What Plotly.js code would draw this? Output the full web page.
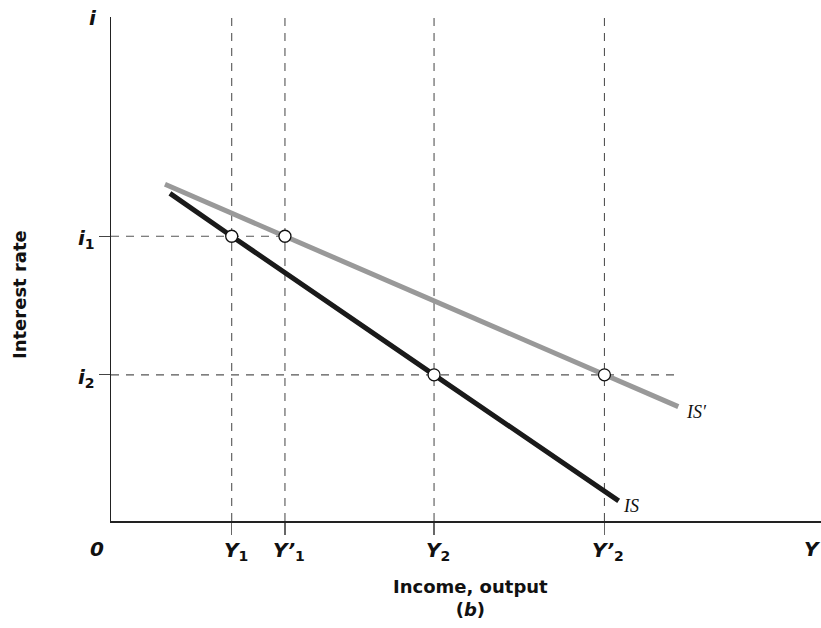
<!DOCTYPE html>
<html><head><meta charset="utf-8">
<script src="https://cdn.plot.ly/plotly-3.0.1.min.js"></script>
<style>html,body{margin:0;padding:0;background:#fff}#chart{width:821px;height:628px}</style>
</head><body><div id="chart"></div>
<script>
// Equilibrium levels (data units)
const incomeLevels = {Y1: 1.7, Y1p: 2.45, Y2: 4.55, Y2p: 6.95};
const rateLevels = {i1: 5.65, i2: 2.9};
// IS curve (black) and IS' curve (gray)
const isX = [0.83, 1.7, 4.55, 7.15];
const isY = [6.5, 5.65, 2.9, 0.4];
const isPX = [0.76, 2.45, 6.95, 7.99];
const isPY = [6.68, 5.65, 2.9, 2.27];
// Equilibrium points
const ptX = [1.7, 2.45, 4.55, 6.95];
const ptY = [5.65, 5.65, 2.9, 2.9];
// Tick labels
const N = s => '<sub><span style="font-style:normal">' + s + '</span></sub>';
const xTickLabels = ['Y' + N('1'), 'Y’' + N('1'), 'Y' + N('2'), 'Y’' + N('2')];
const yTickLabels = ['i' + N('1'), 'i' + N('2')];
const xMax = 10, yMax = 10, i2DashEnd = 7.95;

const xVals = [incomeLevels.Y1, incomeLevels.Y1p, incomeLevels.Y2, incomeLevels.Y2p];
const yVals = [rateLevels.i1, rateLevels.i2];

const dashStyle = {color: '#555', width: 1.1, dash: '8px,7px'};
const traces = [];
xVals.forEach(v => traces.push({x: [v, v], y: [0, yMax], mode: 'lines', line: dashStyle, hoverinfo: 'skip'}));
traces.push({x: [0, incomeLevels.Y1p], y: [rateLevels.i1, rateLevels.i1], mode: 'lines', line: dashStyle, hoverinfo: 'skip'});
traces.push({x: [0, i2DashEnd], y: [rateLevels.i2, rateLevels.i2], mode: 'lines', line: dashStyle, hoverinfo: 'skip'});
traces.push({x: isPX, y: isPY, mode: 'lines', line: {color: '#999999', width: 5}});
traces.push({x: isX, y: isY, mode: 'lines', line: {color: '#1a1a1a', width: 5}});
traces.push({x: ptX, y: ptY, mode: 'markers', marker: {size: 12, color: '#fff', line: {color: '#111', width: 1.3}}});

const tf = {family: 'DejaVu Sans, sans-serif', size: 20, color: '#111', weight: 'bold', style: 'italic'};
const af = {family: 'DejaVu Sans, sans-serif', size: 18, color: '#111', weight: 'bold'};
const sf = {family: 'Liberation Serif, serif', size: 18, color: '#111', style: 'italic'};
const px = p => (p - 111) / 710, py = p => (521 - p) / 504;
const ann = [];
xVals.forEach((v, k) => ann.push({x: v, y: py(551), xref: 'x', yref: 'paper', text: xTickLabels[k], showarrow: false, font: tf, xanchor: 'center', yanchor: 'middle', xshift: 4}));
ann.push({x: px(97), y: py(549), xref: 'paper', yref: 'paper', text: '0', showarrow: false, font: tf, xanchor: 'center', yanchor: 'middle'});
ann.push({x: px(812), y: py(549), xref: 'paper', yref: 'paper', text: 'Y', showarrow: false, font: tf, xanchor: 'center', yanchor: 'middle'});
ann.push({x: px(93), y: py(18), xref: 'paper', yref: 'paper', text: 'i', showarrow: false, font: tf, xanchor: 'center', yanchor: 'middle'});
yVals.forEach((v, k) => ann.push({x: px(86), y: v, xref: 'paper', yref: 'y', text: yTickLabels[k], showarrow: false, font: tf, xanchor: 'center', yanchor: 'middle', yshift: -3}));
ann.push({x: px(19), y: py(295), xref: 'paper', yref: 'paper', text: 'Interest rate', textangle: -90, showarrow: false, font: af, xanchor: 'center', yanchor: 'middle'});
ann.push({x: px(470), y: py(598), xref: 'paper', yref: 'paper', text: 'Income, output<br>(<i>b</i>)', showarrow: false, font: af, xanchor: 'center', yanchor: 'middle'});
ann.push({x: isX[3], y: isY[3], xref: 'x', yref: 'y', text: 'IS', showarrow: false, font: sf, xanchor: 'left', yanchor: 'middle', xshift: 2, yshift: -5});
ann.push({x: isPX[3], y: isPY[3], xref: 'x', yref: 'y', text: 'IS′', showarrow: false, font: sf, xanchor: 'left', yanchor: 'middle', xshift: 6, yshift: -5});

const layout = {
  width: 821, height: 628, showlegend: false,
  paper_bgcolor: '#fff', plot_bgcolor: '#fff',
  margin: {l: 111, r: 0, t: 17, b: 107},
  xaxis: {range: [0, xMax], showgrid: false, zeroline: false, showline: true, linecolor: '#222', linewidth: 1.5,
    tickvals: xVals, ticktext: xVals.map(() => ''), ticks: 'outside', ticklen: 12, tickcolor: '#666', tickwidth: 1.2},
  yaxis: {range: [0, yMax], showgrid: false, zeroline: false, showline: true, linecolor: '#222', linewidth: 1.5,
    tickvals: yVals, ticktext: yVals.map(() => ''), ticks: 'outside', ticklen: 11, tickcolor: '#444', tickwidth: 1.2},
  annotations: ann
};
Plotly.newPlot('chart', traces, layout, {displayModeBar: false, staticPlot: true});
</script></body></html>
